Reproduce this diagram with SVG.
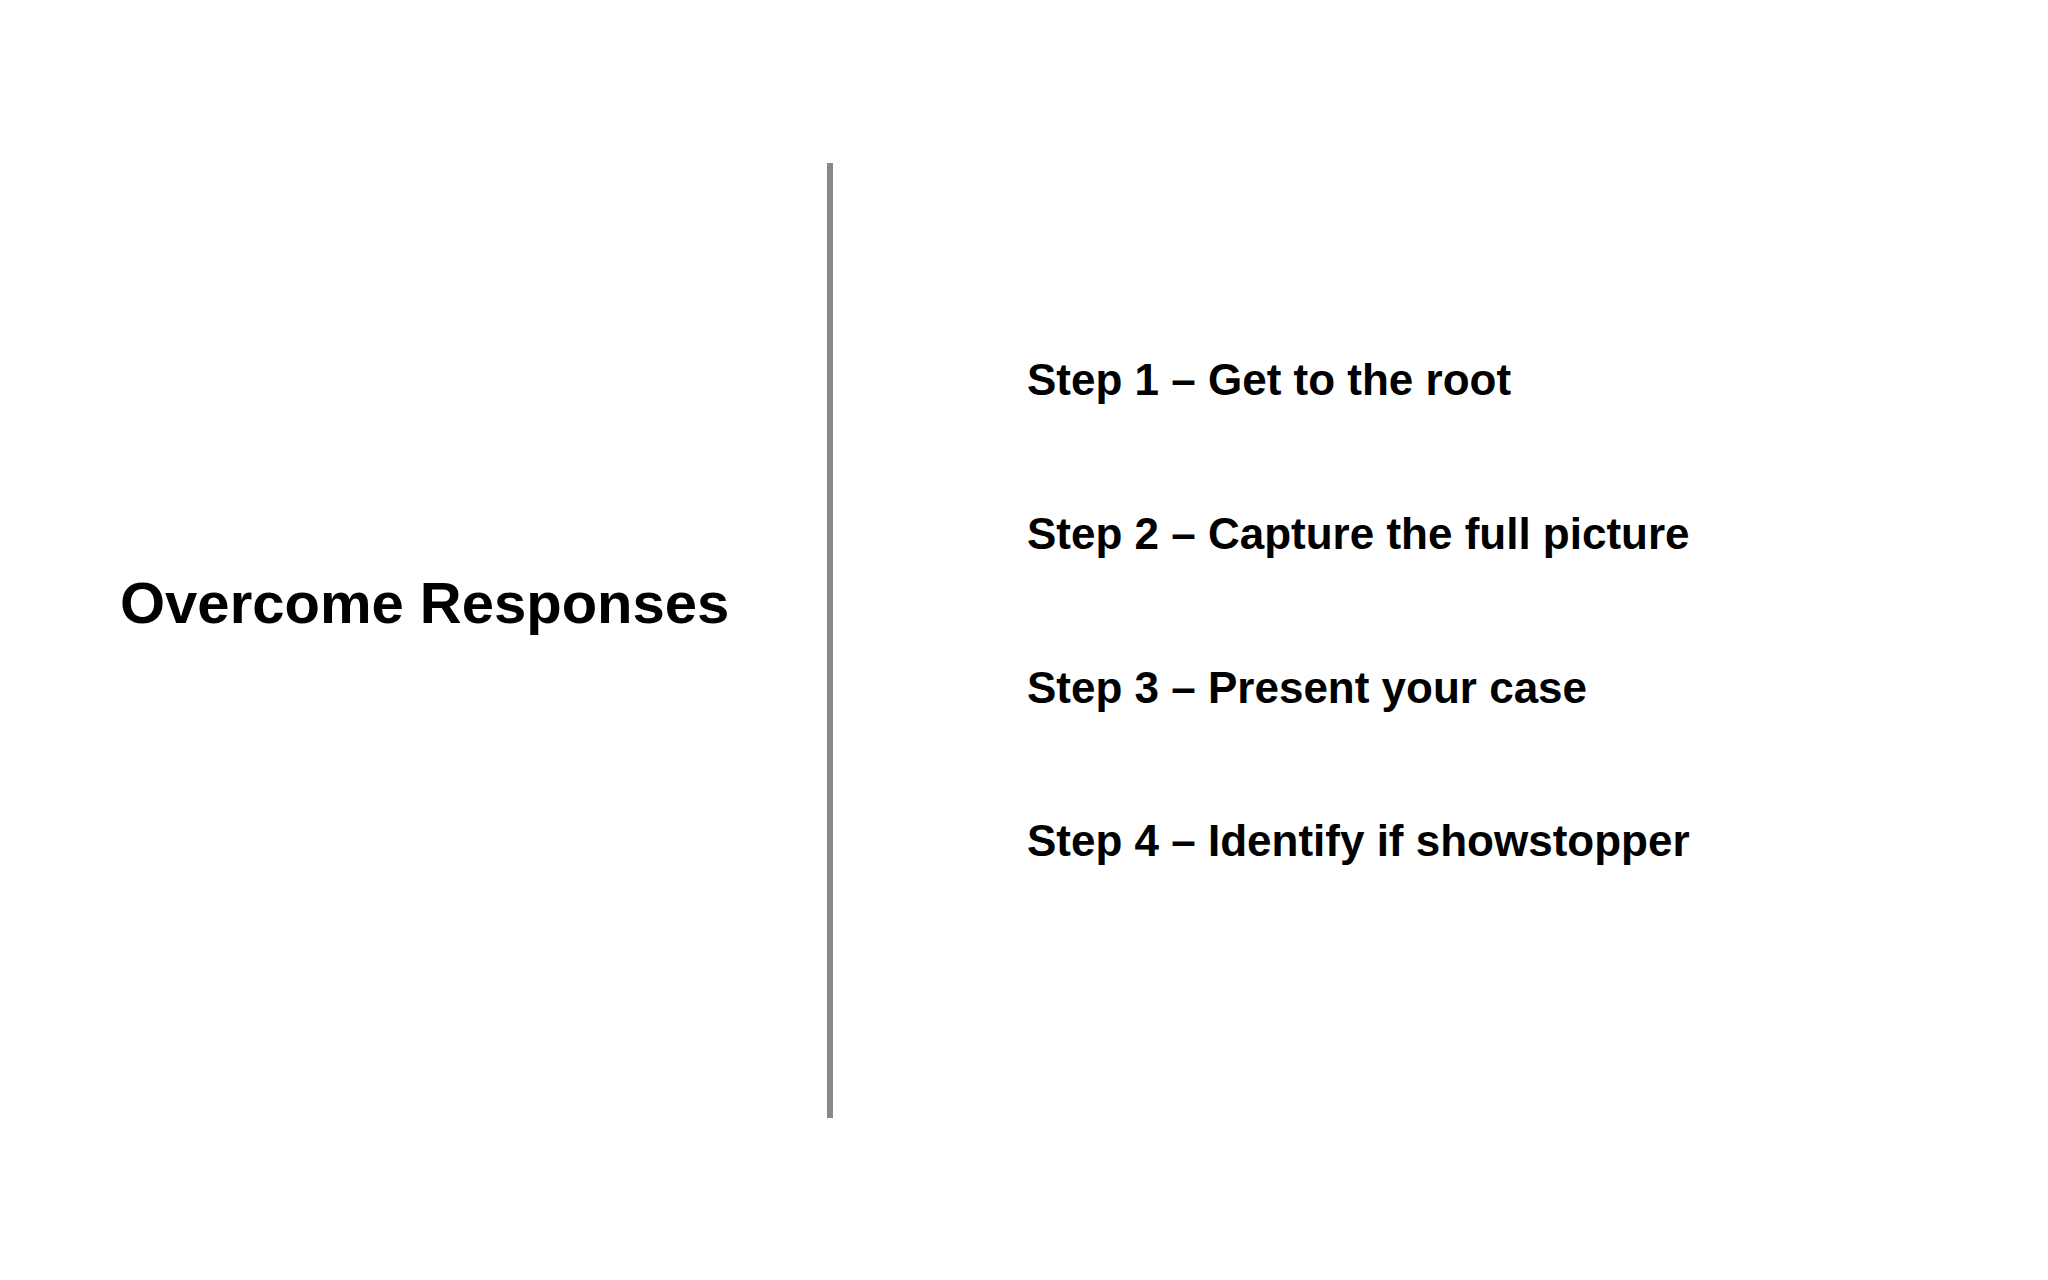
<svg xmlns="http://www.w3.org/2000/svg" width="2048" height="1280" viewBox="0 0 2048 1280">
<style>
.t{font-family:"Liberation Sans",Arial,sans-serif;font-weight:bold;fill:#000}
.s{font-size:44px}
</style>
<rect width="2048" height="1280" fill="#fff"/>
<g id="divider"><line x1="830" y1="163" x2="830" y2="1118" stroke="#888" stroke-width="6"/></g>
<g id="title"><text class="t" x="120" y="623" font-size="58">Overcome Responses</text></g>
<g id="steps">
<text class="t s" x="1027" y="395">Step 1 – Get to the root</text>
<text class="t s" x="1027" y="549">Step 2 – Capture the full picture</text>
<text class="t s" x="1027" y="703">Step 3 – Present your case</text>
<text class="t s" x="1027" y="856">Step 4 – Identify if showstopper</text>
</g>
</svg>
